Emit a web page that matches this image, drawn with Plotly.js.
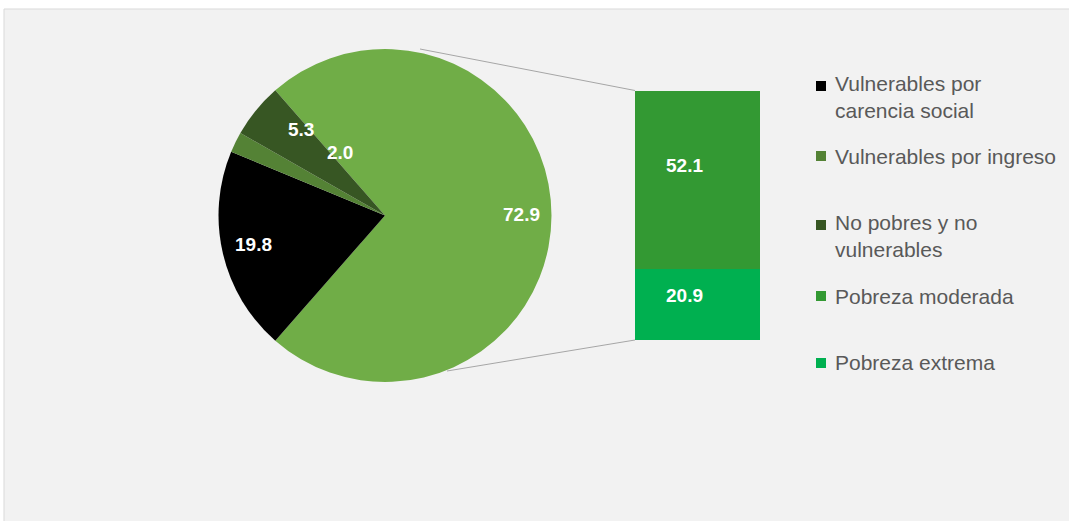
<!DOCTYPE html>
<html><head><meta charset="utf-8">
<script src="https://cdn.plot.ly/plotly-3.0.1.min.js"></script>
<style>html,body{margin:0;padding:0;background:#fff}</style>
</head><body><div id="chart" style="width:1069px;height:521px"></div>
<script>
// ---- data ----
const pieLabels = ['Pobreza', 'Vulnerables por carencia social', 'Vulnerables por ingreso', 'No pobres y no vulnerables'];
const pieValues = [72.9, 19.8, 2.0, 5.3];
const pieColors = ['#70ad47', '#000000', '#548235', '#375623'];
const barLabels = ['Pobreza extrema', 'Pobreza moderada'];
const barValues = [20.9, 52.1];
const barColors = ['#00b050', '#339933'];
const legendLabels = ['Vulnerables por<br>carencia social', 'Vulnerables por ingreso', 'No pobres y no<br>vulnerables', 'Pobreza moderada', 'Pobreza extrema'];
const legendColors = ['#000000', '#548235', '#375623', '#339933', '#00b050'];

// ---- layout helpers ----
const W = 1069, H = 521;
const px = x => x / W;
const py = y => 1 - y / H;

const traces = [];
traces.push({
  type: 'pie', values: pieValues, labels: pieLabels, sort: false,
  direction: 'clockwise', rotation: 90 - pieValues[0] * 3.6 / 2,
  marker: { colors: pieColors, line: { width: 0 } },
  textinfo: 'none', hoverinfo: 'label+value', showlegend: false,
  domain: { x: [px(218), px(552)], y: [py(382), py(49)] }
});
barValues.forEach((v, i) => traces.push({
  type: 'bar', x: ['Pobreza'], y: [v], name: barLabels[i], width: 1,
  marker: { color: barColors[i], line: { width: 0 } }, showlegend: false,
  hoverinfo: 'name+y'
}));

const barTotal = barValues.reduce((a, b) => a + b, 0);
const labelFont = { family: 'Liberation Sans, Arial, sans-serif', size: 19, color: '#ffffff', weight: 'bold' };
const legendFont = { family: 'Liberation Sans, Arial, sans-serif', size: 21, color: '#595959' };

const shapes = [
  { type: 'rect', xref: 'paper', yref: 'paper', x0: px(4), y0: py(9), x1: 1.01, y1: -0.01,
    fillcolor: '#f2f2f2', line: { color: '#d9d9d9', width: 1 }, layer: 'below' },
  { type: 'line', xref: 'paper', yref: 'paper', x0: px(420), y0: py(49), x1: px(635), y1: py(90.5),
    line: { color: '#a6a6a6', width: 1 } },
  { type: 'line', xref: 'paper', yref: 'paper', x0: px(447), y0: py(371), x1: px(635), y1: py(340),
    line: { color: '#a6a6a6', width: 1 } }
];
const legendY = [97, 156, 236, 296, 362];
const squareY = [86, 156, 225, 296, 363];
const annotations = [];
legendLabels.forEach((t, i) => {
  shapes.push({ type: 'rect', xref: 'paper', yref: 'paper',
    x0: px(816), x1: px(826), y0: py(squareY[i] + 5), y1: py(squareY[i] - 5),
    fillcolor: legendColors[i], line: { width: 0 } });
  annotations.push({ xref: 'paper', yref: 'paper', x: px(833), y: py(legendY[i]),
    xanchor: 'left', yanchor: 'middle', align: 'left', showarrow: false,
    text: t, font: legendFont });
});
// data labels
const pieLabelPos = [[521, 214], [253, 244], [340, 153], [301, 129]];
pieValues.forEach((v, i) => annotations.push({ xref: 'paper', yref: 'paper',
  x: px(pieLabelPos[i][0]), y: py(pieLabelPos[i][1]), showarrow: false,
  xanchor: 'center', yanchor: 'middle', text: v.toFixed(1), font: labelFont }));
const barLabelPos = [[684, 295], [684, 165]];
barValues.forEach((v, i) => annotations.push({ xref: 'paper', yref: 'paper',
  x: px(barLabelPos[i][0]), y: py(barLabelPos[i][1]), showarrow: false,
  xanchor: 'center', yanchor: 'middle', text: v.toFixed(1), font: labelFont }));

const layout = {
  width: W, height: H, margin: { l: 0, r: 0, t: 0, b: 0 },
  paper_bgcolor: '#ffffff', plot_bgcolor: 'rgba(0,0,0,0)',
  barmode: 'stack', bargap: 0, showlegend: false,
  xaxis: { domain: [px(635), px(760)], range: [-0.5, 0.5], visible: false, fixedrange: true },
  yaxis: { domain: [py(340), py(90.5)], range: [0, barTotal], visible: false, fixedrange: true },
  shapes: shapes, annotations: annotations
};
Plotly.newPlot('chart', traces, layout, { displayModeBar: false, staticPlot: true });
</script></body></html>
